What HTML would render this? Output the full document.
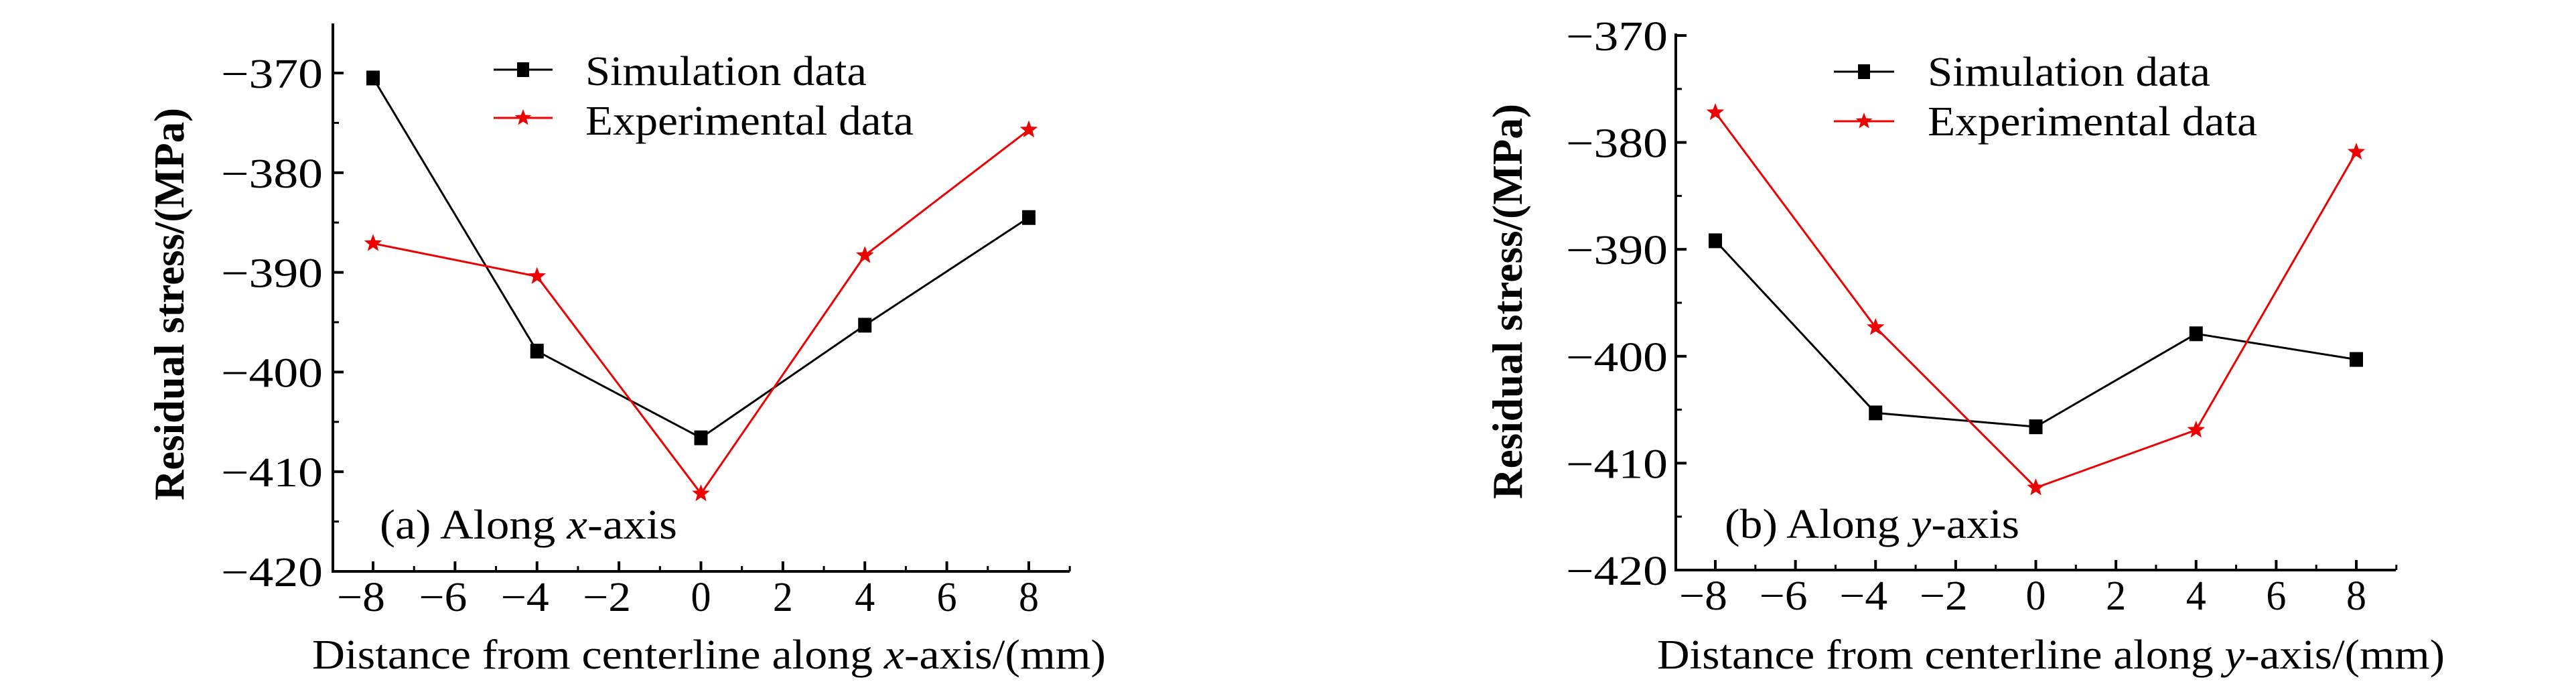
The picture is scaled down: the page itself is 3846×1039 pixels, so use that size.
<!DOCTYPE html>
<html><head><meta charset="utf-8"><style>
html,body{margin:0;padding:0;background:#fff;}
svg{display:block;}
text{font-family:"Liberation Serif",serif;fill:#000;}
</style></head><body>
<svg id="chart" width="3846" height="1039" viewBox="0 0 3846 1039" xmlns="http://www.w3.org/2000/svg"></svg>
<script>
const xTicks = [-8,-6,-4,-2,0,2,4,6,8];
const yTicks = [-370,-380,-390,-400,-410,-420];
const xPositions = [-8,-4,0,4,8];
const simA = [-370.5,-397.9,-406.6,-395.3,-384.5];
const expA = [-387.1,-390.4,-412.2,-388.3,-375.7];
const simB = [-389.2,-405.3,-406.6,-397.9,-400.3];
const expB = [-377.2,-397.3,-412.3,-406.9,-380.9];

const NS="http://www.w3.org/2000/svg";
const svg=document.getElementById('chart');
function mk(tag,attrs,parent){const e=document.createElementNS(NS,tag);for(const k in attrs)e.setAttribute(k,attrs[k]);(parent||svg).appendChild(e);return e;}
function star(cx,cy,r){let p=[];for(let i=0;i<10;i++){const a=-Math.PI/2+i*Math.PI/5;const rr=i%2?r*0.42:r;p.push((cx+rr*Math.cos(a)).toFixed(1)+','+(cy+rr*Math.sin(a)).toFixed(1));}return p.join(' ');}

const panels=[
 {id:'a',ax:497,axR:1597,top:35,x0:557,x8:1536,y370:109,y420:853,sim:simA,exp:expA,
  lblR:482,legLine:[737,825],legY:[104,176],legTx:874,legW:[420,490],legBase:[127,201],
  ann:'(a) Along ',annVar:'x',annX:567,annW:444,annY:804,yt:252,ytTop:161,ytBot:747,xt:[466,1651],var:'x'},
 {id:'b',ax:2502,axR:3577,top:50,x0:2561,x8:3518,y370:53,y420:851,sim:simB,exp:expB,
  lblR:2490,legLine:[2738,2828],legY:[107,181],legTx:2878,legW:[422,492],legBase:[128,202],
  ann:'(b) Along ',annVar:'y',annX:2575,annW:440,annY:803,yt:2250,ytTop:155,ytBot:745,xt:[2474,3650],var:'y'}
];

panels.forEach(P=>{
 const g=mk('g',{});
 
 
 const xs=v=>P.x0+(v+8)*(P.x8-P.x0)/16;
 const ys=v=>P.y370+(-370-v)*(P.y420-P.y370)/50;
 const ya=mk('line',{x1:P.ax,y1:P.top,x2:P.ax,y2:P.y420+2,stroke:'#000','stroke-width':4},g);
 
 
 const xa=mk('line',{x1:P.ax-2,y1:P.y420,x2:P.axR,y2:P.y420,stroke:'#000','stroke-width':4},g);
 
 
 yTicks.forEach(v=>{
  const y=ys(v);
  mk('line',{x1:P.ax,y1:y,x2:P.ax+16,y2:y,stroke:'#000','stroke-width':4},g);
  if(v>-420) mk('line',{x1:P.ax,y1:ys(v-5),x2:P.ax+9,y2:ys(v-5),stroke:'#000','stroke-width':3},g);
  const t=mk('text',{x:P.lblR,y:y+22,'text-anchor':'end','font-size':62,textLength:152,lengthAdjust:'spacingAndGlyphs'},g);
  t.textContent='\u2212'+Math.abs(v);
  
  
 });
 xTicks.forEach(v=>{
  const x=xs(v);
  mk('line',{x1:x,y1:P.y420,x2:x,y2:P.y420-15,stroke:'#000','stroke-width':4},g);
  mk('line',{x1:xs(v+1),y1:P.y420,x2:xs(v+1),y2:P.y420-8,stroke:'#000','stroke-width':3},g);
  const s=(v<0?'\u2212':'')+Math.abs(v);
  const t=mk('text',{x:v<0?x-18:x,y:P.y420+59,'text-anchor':'middle','font-size':62,textLength:v<0?72:30,lengthAdjust:'spacingAndGlyphs'},g);
  t.textContent=s;
  
  
 });
 const simPts=xPositions.map((x,i)=>xs(x)+','+ys(P.sim[i])).join(' ');
 const expPts=xPositions.map((x,i)=>xs(x)+','+ys(P.exp[i])).join(' ');
 const l1=mk('polyline',{points:simPts,fill:'none',stroke:'#000','stroke-width':3},g);
 
 
 const l2=mk('polyline',{points:expPts,fill:'none',stroke:'#e00','stroke-width':3},g);
 
 
 xPositions.forEach((x,i)=>{
  const r=mk('rect',{x:xs(x)-10,y:ys(P.sim[i])-11,width:20,height:22,fill:'#000'},g);
  
  
  const s=mk('polygon',{points:star(xs(x),ys(P.exp[i]),14),fill:'#e00'},g);
  
  
 });
 const lg=mk('g',{},g);
 
 
 const [la,lb]=P.legLine, mid=(la+lb)/2;
 mk('line',{x1:la,y1:P.legY[0],x2:lb,y2:P.legY[0],stroke:'#000','stroke-width':3},lg);
 mk('rect',{x:mid-9,y:P.legY[0]-11,width:18,height:22,fill:'#000'},lg);
 mk('line',{x1:la,y1:P.legY[1],x2:lb,y2:P.legY[1],stroke:'#e00','stroke-width':3},lg);
 mk('polygon',{points:star(mid,P.legY[1],13),fill:'#e00'},lg);
 const t1=mk('text',{x:P.legTx,y:P.legBase[0],'font-size':62,textLength:P.legW[0],lengthAdjust:'spacingAndGlyphs'},lg);
 t1.textContent='Simulation data';
 
 
 const t2=mk('text',{x:P.legTx,y:P.legBase[1],'font-size':62,textLength:P.legW[1],lengthAdjust:'spacingAndGlyphs'},lg);
 t2.textContent='Experimental data';
 
 
 const an=mk('text',{x:P.annX,y:P.annY,'font-size':62,textLength:P.annW,lengthAdjust:'spacingAndGlyphs'},g);
 an.innerHTML=P.ann+'<tspan font-style="italic">'+P.annVar+'</tspan>-axis';
 
 
 const yc=(P.ytTop+P.ytBot)/2;
 const yt=mk('text',{x:0,y:0,'font-size':64,'font-weight':'bold','text-anchor':'middle',textLength:P.ytBot-P.ytTop,lengthAdjust:'spacingAndGlyphs',transform:`translate(${P.yt+22},${yc}) rotate(-90)`},g);
 yt.textContent='Residual stress/(MPa)';
 
 
 const xt=mk('text',{x:P.xt[0],y:998,'font-size':62,textLength:P.xt[1]-P.xt[0],lengthAdjust:'spacingAndGlyphs'},g);
 xt.innerHTML='Distance from centerline along <tspan font-style="italic">'+P.var+'</tspan>-axis/(mm)';
 
 
});
</script>
</body></html>
